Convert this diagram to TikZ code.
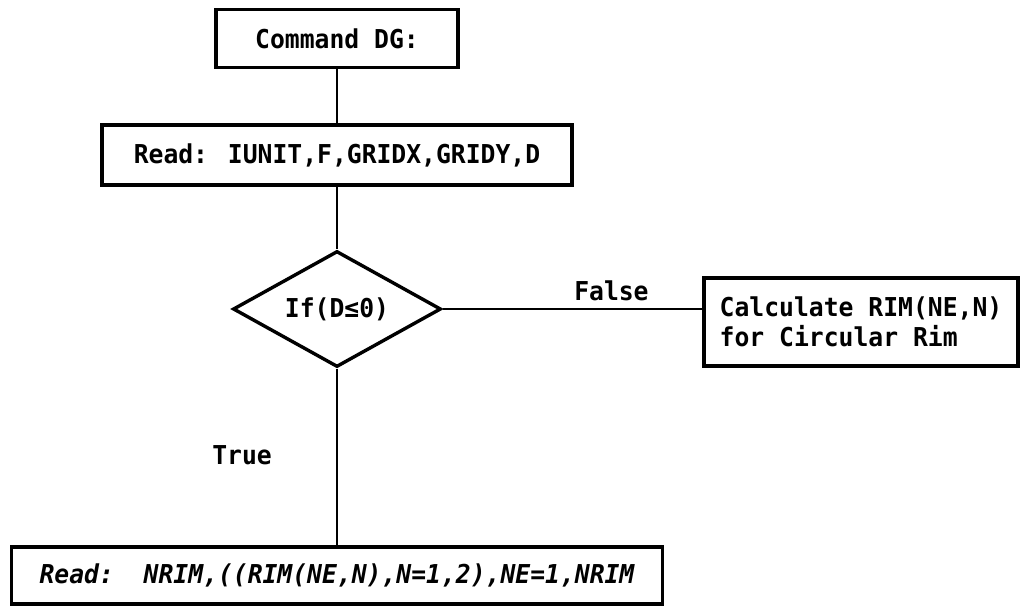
\documentclass[tikz,border=0pt]{standalone}
\usepackage{fontspec}
\newfontfamily\chartfont[FakeStretch=0.95,ItalicFont={DejaVu Sans Mono Bold Oblique}]{DejaVu Sans Mono Bold}
\usetikzlibrary{shapes.geometric}

\begin{document}
\begin{tikzpicture}[x=1pt,y=-1pt,
	every node/.style={font=\chartfont\fontsize{26}{30}\selectfont},
	box/.style={draw, line width=3.4pt, rectangle, inner sep=0pt},
	test/.style={draw, line width=3.4pt, diamond, aspect=1.8, inner sep=0pt, minimum width=208pt, minimum height=116pt},
	link/.style={line width=2.4pt},
	lbl/.style={inner sep=0pt}]
	\path[use as bounding box] (0,0) rectangle (1022,606);
	% boxes down the middle line
	\node[box, minimum width=242pt, minimum height=58pt] (cmd) at (337,38.5) {Command DG:};
	\node[box, minimum width=470pt, minimum height=60pt] (rd) at (337,155) {Read: IUNIT,F,GRIDX,GRIDY,D};
	\node[test] (dec) at (337,309) {If(D≤0)};
	\node[box, minimum width=651pt, minimum height=57pt] (rdrim) at (337,575.5) {\itshape Read:\ \ NRIM,((RIM(NE,N),N=1,2),NE=1,NRIM};
	% false branch goes right
	\node[box, align=left, minimum width=314pt, minimum height=88pt] (calc) at (861,322) {Calculate RIM(NE,N)\\for Circular Rim};

	\draw[link] (cmd) -- (rd);
	\draw[link] (rd) -- (dec);
	\draw[link] (dec.east) -- node[lbl, pos=0.65, above=7pt] (no) {False} (dec.east -| calc.west);
	\draw[link] (dec.south) -- node[lbl, pos=0.49, left=64pt] (yes) {True} (rdrim.north);
\end{tikzpicture}
\end{document}
